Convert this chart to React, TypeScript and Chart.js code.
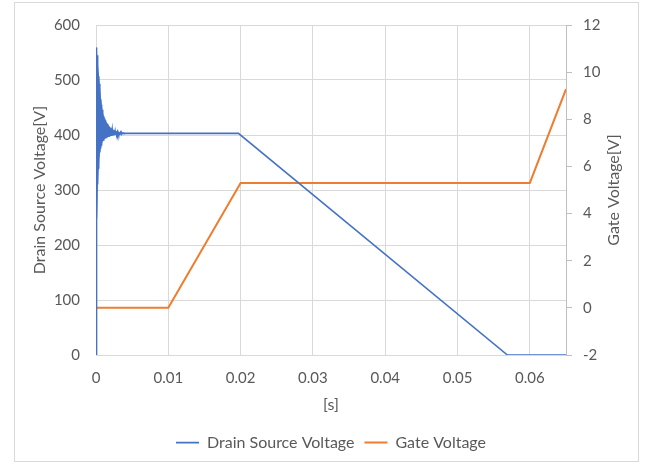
import { useEffect, useRef } from "react";
import { Chart, registerables } from "chart.js";
Chart.register(...registerables);

// Drain source voltage: ringing at turn-on (alternating peaks read from the envelope),
// plateau, then linear fall
const dsTime = [
  0,
  0.00005, 0.0001, 0.00015, 0.0002, 0.00025, 0.0003, 0.00035, 0.0004, 0.00045, 0.0005,
  0.00055, 0.0006, 0.00065, 0.0007, 0.00075, 0.0008, 0.00085, 0.0009, 0.00095, 0.001,
  0.00105, 0.0011, 0.00115, 0.0012, 0.00125, 0.0013, 0.00135, 0.0014, 0.00145, 0.0015,
  0.00155, 0.0016, 0.00165, 0.0017, 0.00175, 0.0018, 0.00185, 0.0019, 0.00195, 0.002,
  0.00205, 0.0021, 0.00215, 0.0022, 0.00225, 0.0023, 0.00235, 0.0024, 0.00245, 0.0025,
  0.00255, 0.0026, 0.00265, 0.0027, 0.00275, 0.0028, 0.00285, 0.0029, 0.00295, 0.003,
  0.00305, 0.0031, 0.00315, 0.0032, 0.00325, 0.0033, 0.00335, 0.0034, 0.00345, 0.0035,
  0.00355, 0.0036, 0.00365, 0.0037, 0.00375, 0.0038, 0.00385, 0.0039, 0.00395, 0.004,
  0.0197, 0.0569, 0.065,
];
const dsVolt = [
  0,
  559, 240, 545, 310, 523, 340, 507, 357, 493, 368,
  478, 377, 465, 382, 455, 386, 446, 389, 438, 391,
  434, 392.5, 430, 393.5, 427, 394.5, 424, 395.5, 422, 396.3,
  420, 397, 418, 397.6, 416, 398.2, 414, 398.7, 413, 399.2,
  411.5, 399.6, 410.5, 400, 409.5, 400.3, 408.5, 400.6, 408, 400.9,
  407.5, 401.1, 407, 401.3, 406, 401.5, 405.5, 401.7, 405, 401.9,
  405, 402, 404.5, 402.2, 404.5, 402.3, 404, 402.4, 404, 402.5,
  403.8, 402.6, 403.6, 402.7, 403.4, 402.8, 403.2, 402.9, 403.1, 403,
  403, 0, 0,
];

// Envelope of the ringing (upper / lower)
const envTime = [0, 0.0001, 0.0002, 0.0004, 0.0006, 0.0009, 0.0012, 0.0015, 0.002, 0.0025, 0.003, 0.0035, 0.004];
const envUpper = [559, 545, 530, 500, 470, 440, 428, 421, 412, 408, 405, 404, 403];
const envLower = [240, 250, 310, 357, 377, 389, 393.5, 396.3, 399.2, 400.9, 401.9, 402.5, 403];

// Gate voltage
const gateTime = [0, 0.01, 0.02, 0.06, 0.065];
const gateVolt = [0, 0, 5.3, 5.3, 9.28];

const seriesNames = ["Drain Source Voltage", "Gate Voltage"];
const xTitle = "[s]";
const yTitle = "Drain Source Voltage[V]";
const y1Title = "Gate Voltage[V]";

const FONT = "Lato, 'Open Sans', sans-serif";
const TEXT = "#595959";
const GRID = "#d9d9d9";
const BLUE = "#4472C4";
const ORANGE = "#ED7D31";
const TICK_SIZE = 15;
const LABEL_SIZE = 16;

export default function App() {
  const ref = useRef<HTMLCanvasElement | null>(null);

  useEffect(() => {
    document.body.style.margin = "0";
    const canvas = ref.current;
    if (!canvas) return;

    const frame = {
      id: "frame",
      beforeDraw(chart: any) {
        const ctx = chart.ctx;
        ctx.save();
        ctx.fillStyle = "#ffffff";
        ctx.fillRect(0, 0, chart.width, chart.height);
        ctx.strokeStyle = GRID;
        ctx.lineWidth = 1;
        ctx.strokeRect(14.5, 2.5, 624, 459);
        ctx.restore();
      },
      afterDraw(chart: any) {
        const ctx = chart.ctx;
        const a = chart.chartArea;
        ctx.save();
        ctx.translate(614, (a.top + a.bottom) / 2);
        ctx.rotate(-Math.PI / 2);
        ctx.fillStyle = TEXT;
        ctx.font = `${LABEL_SIZE}px ${FONT}`;
        ctx.textAlign = "center";
        ctx.textBaseline = "middle";
        ctx.fillText(y1Title, 0, 0);
        ctx.restore();
      },
    };

    const chart = new Chart(canvas, {
      type: "line",
      data: {
        datasets: [
          {
            label: seriesNames[0],
            data: dsTime.map((t, i) => ({ x: t, y: dsVolt[i] })),
            borderColor: BLUE,
            backgroundColor: BLUE,
            borderWidth: 1.6,
            pointRadius: 0,
            yAxisID: "y",
            tension: 0,
          },
          {
            label: seriesNames[1],
            data: gateTime.map((t, i) => ({ x: t, y: gateVolt[i] })),
            borderColor: ORANGE,
            backgroundColor: ORANGE,
            borderWidth: 2,
            pointRadius: 0,
            yAxisID: "y1",
            tension: 0,
          },
          {
            label: "envUpper",
            data: envTime.map((t, i) => ({ x: t, y: envUpper[i] })),
            borderColor: BLUE,
            backgroundColor: BLUE,
            borderWidth: 1,
            pointRadius: 0,
            yAxisID: "y",
            tension: 0.3,
            fill: "+1",
          },
          {
            label: "envLower",
            data: envTime.map((t, i) => ({ x: t, y: envLower[i] })),
            borderColor: BLUE,
            backgroundColor: BLUE,
            borderWidth: 1,
            pointRadius: 0,
            yAxisID: "y",
            tension: 0.3,
            fill: false,
          },
        ],
      },
      options: {
        responsive: false,
        animation: false,
        layout: { padding: { top: 12, bottom: 4.4, left: 0, right: 0 } },
        plugins: {
          tooltip: { enabled: false },
          legend: {
            position: "bottom",
            fullSize: false,
            labels: {
              usePointStyle: true,
              pointStyle: "line",
              pointStyleWidth: 23,
              color: TEXT,
              font: { family: FONT, size: LABEL_SIZE },
              padding: 10,
              filter: (item: any) => item.datasetIndex < 2,
            },
          },
        },
        scales: {
          x: {
            type: "linear",
            min: 0,
            max: 0.065,
            afterFit: (s: any) => { s.height = 69.6; },
            ticks: {
              stepSize: 0.01,
              includeBounds: false,
              padding: 14,
              color: TEXT,
              font: { family: FONT, size: TICK_SIZE },
              maxRotation: 0,
              callback: (v: any) => String(+Number(v).toFixed(2)),
            },
            grid: { color: GRID, drawTicks: false },
            border: { color: GRID },
            title: {
              display: true,
              text: xTitle,
              color: TEXT,
              font: { family: FONT, size: LABEL_SIZE },
              padding: { top: 0, bottom: 10.6 },
            },
          },
          y: {
            position: "left",
            min: 0,
            max: 600,
            afterFit: (s: any) => { s.width = 96; },
            ticks: {
              stepSize: 100,
              padding: 16,
              color: TEXT,
              font: { family: FONT, size: TICK_SIZE },
            },
            grid: { color: GRID, drawTicks: false },
            border: { display: false },
            title: {
              display: true,
              text: yTitle,
              color: TEXT,
              font: { family: FONT, size: LABEL_SIZE },
              padding: { top: 30.4, bottom: 0 },
            },
          },
          y1: {
            position: "right",
            min: -2,
            max: 12,
            afterFit: (s: any) => { s.width = 80; },
            ticks: {
              stepSize: 2,
              padding: 11,
              color: TEXT,
              font: { family: FONT, size: TICK_SIZE },
            },
            grid: { drawOnChartArea: false, drawTicks: true, tickLength: 6, color: "#bfbfbf" },
            border: { color: "#bfbfbf" },
          },
        },
      },
      plugins: [frame],
    } as any);

    return () => chart.destroy();
  }, []);

  return (
    <div style={{ width: 646, height: 465 }}>
      <canvas ref={ref} width={646} height={465} />
    </div>
  );
}
